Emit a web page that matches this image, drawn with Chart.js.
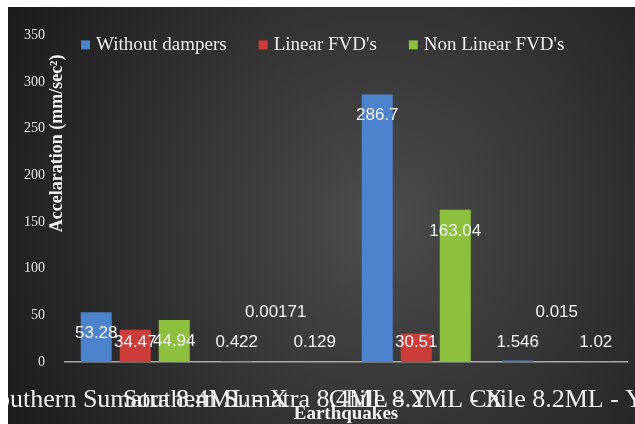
<!DOCTYPE html>
<html>
<head>
<meta charset="utf-8">
<script src="https://cdn.jsdelivr.net/npm/chart.js@4.4.1/dist/chart.umd.min.js"></script>
<style>
  html, body { margin: 0; padding: 0; background: #fff; }
  #wrap { position: absolute; left: 8px; top: 7px; width: 627px; height: 417px; }
</style>
</head>
<body>
<div id="wrap"><canvas id="chart"></canvas></div>
<script>
// data
const earthquakes = ['Southern Sumatra 8.4ML - X', 'Southern Sumatra 8.4ML - Y', 'Chile 8.2ML - X', 'Chile 8.2ML - Y'];
const withoutDampers = [53.28, 0.422, 286.7, 1.546];
const linearFVD = [34.47, 0.00171, 30.51, 0.015];
const nonLinearFVD = [44.94, 0.129, 163.04, 1.02];
const yTicks = [0, 50, 100, 150, 200, 250, 300, 350];

const seriesNames = ['Without dampers', "Linear FVD's", "Non Linear FVD's"];
const colors = ['#4d83cc', '#cc3c38', '#8dc03f'];

const serif = '"Liberation Serif", "Times New Roman", serif';

// dark radial background like the excel style
const bgPlugin = {
  id: 'bg',
  beforeDraw(chart) {
    const { ctx, width, height } = chart;
    const g = ctx.createRadialGradient(370, 215, 0, 370, 215, 420);
    g.addColorStop(0, '#4c4c4c');
    g.addColorStop(1, '#1c1c1c');
    ctx.save();
    ctx.fillStyle = g;
    ctx.fillRect(0, 0, width, height);
    ctx.restore();
  }
};

// value labels, legend and axis titles drawn on top
const overlay = {
  id: 'overlay',
  afterDatasetsDraw(chart) {
    const ctx = chart.ctx;
    ctx.save();
    ctx.font = '17px "Liberation Sans", Arial, sans-serif';
    ctx.fillStyle = '#f2f2f2';
    ctx.textAlign = 'center';
    ctx.textBaseline = 'middle';
    chart.data.datasets.forEach((ds, di) => {
      chart.getDatasetMeta(di).data.forEach((bar, i) => {
        let y = Math.min(bar.y + 21, bar.base - 20);
        if (di === 1 && bar.base - bar.y < 3) y -= 30;
        ctx.fillText(String(ds.data[i]), bar.x, y);
      });
    });
    ctx.restore();
  },
  afterDraw(chart) {
    const { ctx, chartArea } = chart;
    ctx.save();

    // legend
    ctx.font = '19px ' + serif;
    ctx.textBaseline = 'middle';
    ctx.textAlign = 'left';
    let x = chartArea.left + 16;
    const ly = chartArea.top + 10;
    chart.data.datasets.forEach((ds) => {
      ctx.fillStyle = ds.backgroundColor;
      ctx.fillRect(x, ly - 5, 9, 9);
      x += 15;
      ctx.fillStyle = '#ececec';
      ctx.fillText(ds.label, x, ly);
      x += ctx.measureText(ds.label).width + 32;
    });

    // y title
    ctx.font = 'bold 18px ' + serif;
    ctx.textAlign = 'center';
    ctx.fillStyle = '#f0f0f0';
    ctx.translate(chartArea.left - 8, chartArea.top + 108);
    ctx.rotate(-Math.PI / 2);
    ctx.fillText('Accelaration (mm/sec²)', 0, 0);
    ctx.restore();

    // x title
    ctx.save();
    ctx.font = 'bold 19px ' + serif;
    ctx.textAlign = 'center';
    ctx.textBaseline = 'middle';
    ctx.fillStyle = '#f0f0f0';
    ctx.fillText('Earthquakes', (chartArea.left + chartArea.right) / 2, chartArea.bottom + 52);
    ctx.restore();
  }
};

new Chart(document.getElementById('chart'), {
  type: 'bar',
  data: {
    labels: earthquakes,
    datasets: [
      { label: seriesNames[0], data: withoutDampers, backgroundColor: colors[0] },
      { label: seriesNames[1], data: linearFVD, backgroundColor: colors[1] },
      { label: seriesNames[2], data: nonLinearFVD, backgroundColor: colors[2] },
    ]
  },
  options: {
    responsive: true,
    maintainAspectRatio: false,
    animation: false,
    devicePixelRatio: 1,
    categoryPercentage: 0.833,
    barPercentage: 0.795,
    layout: { padding: { top: 22, right: 8, left: 0, bottom: 0 } },
    plugins: {
      legend: { display: false },
      tooltip: { enabled: false },
    },
    scales: {
      x: {
        grid: { display: false, drawTicks: false },
        border: { display: true, color: '#a9a9a9', width: 1.5 },
        ticks: {
          color: '#f0f0f0',
          font: { family: serif, size: 26 },
          padding: 23,
          maxRotation: 0,
          minRotation: 0,
          autoSkip: false,
        },
        afterFit(scale) {
          scale.height = 62;
          scale.paddingLeft = 0;
          scale.paddingRight = 0;
        }
      },
      y: {
        min: 0,
        max: 350,
        grid: { display: false, drawTicks: false },
        border: { display: false },
        afterBuildTicks(scale) {
          scale.ticks = yTicks.map(v => ({ value: v }));
        },
        ticks: {
          color: '#e2e2e2',
          font: { family: serif, size: 14 },
          padding: 20,
        },
        afterFit(scale) {
          scale.width = 57;
        }
      }
    }
  },
  plugins: [bgPlugin, overlay]
});
</script>
</body>
</html>
